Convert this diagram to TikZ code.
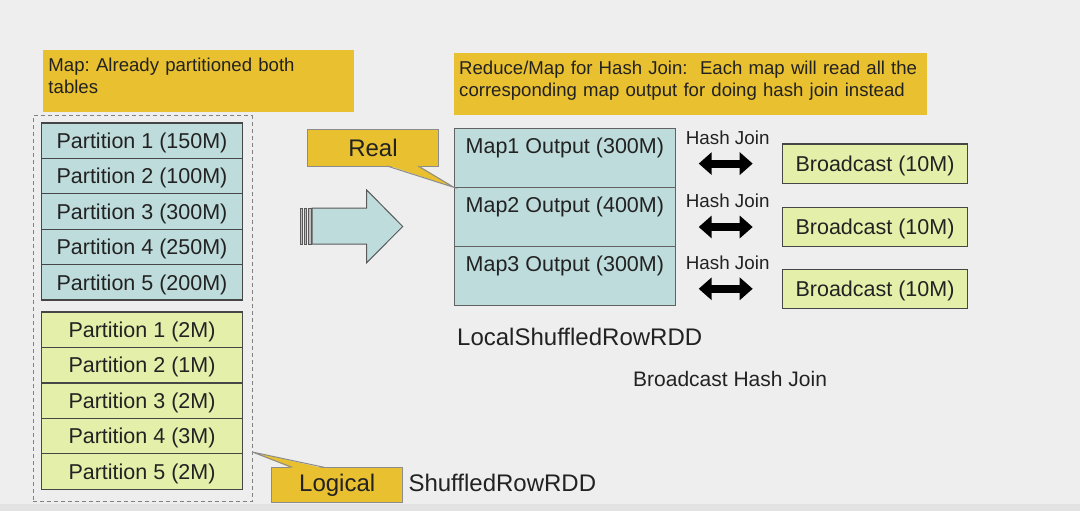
\documentclass[tikz,border=0pt]{standalone}
\usepackage{fontspec}
\setmainfont{Liberation Sans}
\usepackage{xcolor}
\usetikzlibrary{positioning,arrows.meta}
\frenchspacing
\definecolor{noteyellow}{RGB}{232,192,48}
\definecolor{partblue}{RGB}{191,220,220}
\definecolor{partgreen}{RGB}{228,239,170}
\definecolor{bggray}{RGB}{238,238,238}
\definecolor{bottomgray}{RGB}{226,226,226}
\definecolor{txt}{RGB}{34,34,34}
\definecolor{edge}{RGB}{70,70,70}
\definecolor{calledge}{RGB}{140,140,140}
\definecolor{dashgray}{RGB}{130,130,130}

\begin{document}
\begin{tikzpicture}[x=1pt,y=-1pt,
part/.style={draw=edge,line width=1.2pt,outer sep=0pt,inner sep=0pt,minimum width=200.6pt,
  minimum height=35.4pt,text depth=0pt,text=txt,font=\fontsize{21.5}{24}\selectfont},
maprow/.style={draw=edge!85,line width=1pt,fill=partblue,outer sep=0pt,minimum width=221.7pt,minimum height=59.1pt},
maplabel/.style={anchor=north,inner sep=9pt,text=txt,font=\fontsize{21.5}{24}\selectfont},
bcast/.style={draw=edge,line width=1.2pt,fill=partgreen,outer sep=0pt,minimum width=184.6pt,
  minimum height=39.3pt,text depth=0pt,text=txt,font=\fontsize{21.5}{24}\selectfont},
hashlbl/.style={inner sep=0pt,text=txt,font=\fontsize{18.8}{20}\selectfont},
note/.style={fill=noteyellow,outer sep=0pt,anchor=north west,minimum height=61.7pt},
notetext/.style={anchor=north west,inner xsep=5pt,inner ysep=8pt,text width=#1,align=left,
  text=txt,font=\fontsize{18.6}{21.5}\selectfont},
callbox/.style={draw=calledge,line width=1pt,fill=noteyellow,outer sep=0pt,minimum width=131pt,
  text=txt,font=\fontsize{24}{26}\selectfont},
plain/.style={anchor=base west,inner sep=0pt,text=txt,font=\fontsize{24}{26}\selectfont},
dbl/.style={line width=8pt,{Triangle[length=13pt,width=22pt]}-{Triangle[length=13pt,width=22pt]}}]

\useasboundingbox (0,0) rectangle (1080,511);
\fill[bggray] (0,0) rectangle (1080,511);
\fill[bottomgray] (0,504) rectangle (1080,511);

\node (mapnote) [note,minimum width=310.7pt,
  label={[notetext=300pt]north west:{Map: Already partitioned both\\tables}}] at (43.3,50) {};
\node (rednote) [note,minimum width=473pt,
  label={[notetext=470pt]north west:{Reduce/Map for Hash Join: \ Each map will read all the\\corresponding map output for doing hash join instead}}] at (454,53.3) {};

\node (grp) [draw=dashgray,line width=1pt,dash pattern=on 4pt off 3pt,outer sep=0pt,
  minimum width=219pt,minimum height=385.7pt] at (142.8,308.85) {};

\foreach \s [count=\i] in {150,100,300,250,200}
  \node (b\i) [part,fill=partblue] at (142,105.3+35.4*\i) {Partition \i\ (\s M)};
\foreach \s [count=\i] in {2,1,2,3,2}
  \node (g\i) [part,fill=partgreen] at (142,294.3+35.45*\i) {Partition \i\ (\s M)};

\foreach \x in {300,304.3,308.6}
  \draw[draw=edge!90,fill=edge!35,line width=.6pt] (\x,208) rectangle +(2.4,36);
\draw[draw=edge!90,line width=1pt,fill=partblue] (312,208) -- (366.7,208) -- (366.7,190)
  -- (402.7,226.5) -- (366.7,262.7) -- (366.7,244) -- (312,244) -- cycle;

\foreach \s [count=\i] in {300,400,300}
  \node (m\i) [maprow,label={[maplabel]north:Map\i\ Output (\s M)}] at (564.85,98.75+59.1*\i) {};

\foreach \y [count=\i] in {163.6,227,288.8} {
  \node (bc\i) [bcast] at (875,\y) {Broadcast (10M)};
  \draw[dbl] ([xshift=-84pt]bc\i.west) -- ([xshift=-30pt]bc\i.west);
  \node (hj\i) [hashlbl] at ([xshift=-55pt,yshift=26pt]bc\i.west) {Hash Join};
}

\node (real) [callbox,minimum height=37pt] at (373,147.5) {Real};
\fill[noteyellow] ([xshift=14pt,yshift=1pt]real.south) -- (m1.south west) -- ([xshift=45pt,yshift=1pt]real.south) -- cycle;
\draw[calledge,line width=1pt] ([xshift=14pt]real.south) -- (m1.south west) -- ([xshift=45pt]real.south);

\node (logical) [callbox,minimum height=35.4pt] at (337.2,485) {Logical};
\fill[noteyellow] ([xshift=-45pt,yshift=-1pt]logical.north) -- ([yshift=49.7pt]grp.south east) -- ([xshift=-13pt,yshift=-1pt]logical.north) -- cycle;
\draw[calledge,line width=1pt] ([xshift=-45pt]logical.north) -- ([yshift=49.7pt]grp.south east) -- ([xshift=-13pt]logical.north);

\node (local) [plain] at (457,345) {LocalShuffledRowRDD};
\node (bhj) [plain,font=\fontsize{21}{24}\selectfont] at (633,386.7) {Broadcast Hash Join};
\node (shuffled) [plain] at (408.3,491.7) {ShuffledRowRDD};
\end{tikzpicture}
\end{document}
